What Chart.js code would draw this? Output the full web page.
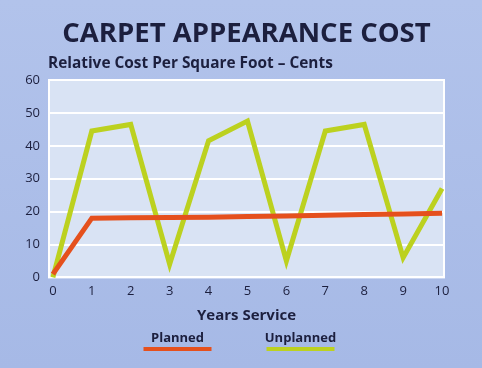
<!DOCTYPE html>
<html>
<head>
<meta charset="utf-8">
<script src="https://cdn.jsdelivr.net/npm/chart.js@4.4.0/dist/chart.umd.min.js"></script>
<style>
  html, body { margin: 0; padding: 0; background: #aabde8; }
  #wrap { width: 482px; height: 368px; }
</style>
</head>
<body>
<div id="wrap"><canvas id="chart" width="482" height="368"></canvas></div>
<script>
// Valeurs
const years = [0, 1, 2, 3, 4, 5, 6, 7, 8, 9, 10];
const planned = [1, 18, 18.1, 18.2, 18.3, 18.5, 18.7, 18.9, 19.1, 19.3, 19.5];
const unplanned = [0, 44.5, 46.5, 4, 41.5, 47.5, 5, 44.5, 46.5, 6, 27];
const yTicks = [0, 10, 20, 30, 40, 50, 60];

const titleText = 'CARPET APPEARANCE COST';
const subtitleText = 'Relative Cost Per Square Foot – Cents';
const xTitleText = 'Years Service';
const seriesNames = ['Planned', 'Unplanned'];

const ink = '#1c1f3e';
const fam = '"Open Sans", "Noto Sans", sans-serif';
const colPlanned = '#e5501d';
const colUnplanned = '#bcd11f';

// fond, cadre blanc, titres et légende dessinés autour de la zone du graphique
const decor = {
    id: 'decor',
    beforeDraw(chart) {
        const { ctx, chartArea: a, width, height } = chart;
        ctx.save();
        const g = ctx.createLinearGradient(0, 0, 0, height);
        g.addColorStop(0, '#b2c3eb');
        g.addColorStop(1, '#a6b9e6');
        ctx.fillStyle = g;
        ctx.fillRect(0, 0, width, height);
        ctx.fillStyle = '#d9e3f4';
        ctx.fillRect(a.left, a.top, a.right - a.left, a.bottom - a.top);
        ctx.restore();
    },
    beforeDatasetsDraw(chart) {
        const { ctx, chartArea: a } = chart;
        ctx.save();
        ctx.strokeStyle = '#ffffff';
        ctx.lineWidth = 2;
        ctx.strokeRect(a.left, a.top, a.right - a.left, a.bottom - a.top);
        ctx.restore();
    },
    afterDraw(chart) {
        const { ctx, chartArea: a } = chart;
        const cx = (a.left + a.right) / 2;
        ctx.save();
        ctx.fillStyle = ink;
        ctx.textBaseline = 'alphabetic';

        ctx.font = 'bold 27.5px ' + fam;
        ctx.textAlign = 'center';
        ctx.fillText(titleText, cx, 42);

        ctx.font = 'bold 15.4px ' + fam;
        ctx.textAlign = 'left';
        ctx.fillText(subtitleText, a.left - 1, 68);

        // légende : texte au-dessus d'un trait de couleur
        const offsets = [-69, 54];
        ctx.font = 'bold 13px ' + fam;
        ctx.textAlign = 'center';
        chart.data.datasets.forEach((ds, i) => {
            const x = cx + offsets[i];
            ctx.fillStyle = ink;
            ctx.fillText(ds.label, x, 342);
            ctx.strokeStyle = ds.borderColor;
            ctx.lineWidth = 4;
            ctx.beginPath();
            ctx.moveTo(x - 34, 349);
            ctx.lineTo(x + 34, 349);
            ctx.stroke();
        });
        ctx.restore();
    }
};

const ctx = document.getElementById('chart').getContext('2d');
new Chart(ctx, {
    type: 'line',
    data: {
        datasets: [
            {
                label: seriesNames[0],
                data: years.map((x, i) => ({ x: x, y: planned[i] })),
                borderColor: colPlanned,
                borderWidth: 5,
                pointRadius: 0,
                tension: 0,
                clip: false
            },
            {
                label: seriesNames[1],
                data: years.map((x, i) => ({ x: x, y: unplanned[i] })),
                borderColor: colUnplanned,
                borderWidth: 5,
                pointRadius: 0,
                tension: 0,
                clip: false
            }
        ]
    },
    options: {
        responsive: false,
        animation: false,
        layout: { padding: { top: 80, right: 38, bottom: 43, left: 0 } },
        plugins: {
            legend: { display: false },
            tooltip: { enabled: false }
        },
        scales: {
            x: {
                type: 'linear',
                min: -0.1,
                max: 10.05,
                afterBuildTicks: s => { s.ticks = years.map(v => ({ value: v })); },
                grid: { display: false, drawTicks: false },
                border: { display: false },
                ticks: { color: ink, font: { family: fam, size: 13 }, padding: 6 },
                title: {
                    display: true,
                    text: xTitleText,
                    color: ink,
                    font: { family: fam, size: 15, weight: 'bold' },
                    padding: { top: 2, bottom: 0 }
                }
            },
            y: {
                min: 0,
                max: 60,
                afterBuildTicks: s => { s.ticks = yTicks.map(v => ({ value: v })); },
                afterFit: s => { s.width = 49; },
                grid: { color: '#ffffff', lineWidth: 2, drawTicks: false },
                border: { display: false },
                ticks: { color: ink, font: { family: fam, size: 13 }, padding: 9 }
            }
        }
    },
    plugins: [decor]
});
</script>
</body>
</html>
